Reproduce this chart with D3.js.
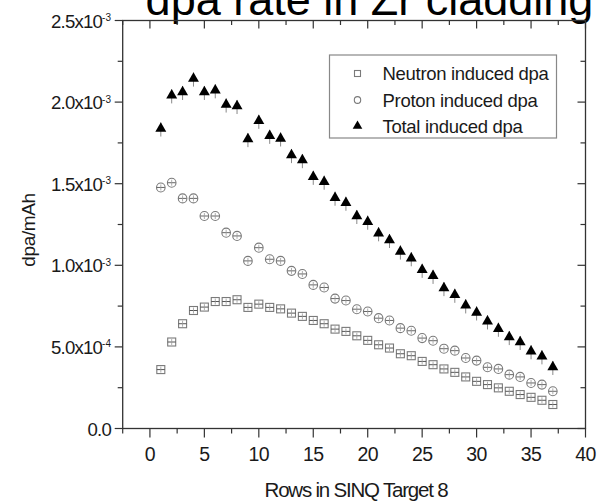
<!DOCTYPE html>
<html>
<head>
<meta charset="utf-8">
<script src="https://cdn.jsdelivr.net/npm/d3@7"></script>
<style>
  body { margin: 0; background: #fff; }
  text { font-family: "Liberation Sans", Arial, sans-serif; fill: #1a1a1a; }
</style>
</head>
<body>
<div id="content"></div>
<script>
// rows in the target
const rows = d3.range(1, 38);

// dpa/mAh (x1e-3)
const neutronDpa = [0.361, 0.530, 0.642, 0.723, 0.744, 0.778, 0.778, 0.789, 0.742, 0.762,
  0.742, 0.733, 0.707, 0.687, 0.662, 0.642, 0.609, 0.595, 0.568, 0.540,
  0.513, 0.493, 0.458, 0.446, 0.411, 0.391, 0.365, 0.344, 0.316, 0.289,
  0.269, 0.249, 0.228, 0.208, 0.191, 0.173, 0.147];
const protonDpa = [1.477, 1.506, 1.410, 1.410, 1.302, 1.302, 1.200, 1.180, 1.027, 1.108,
  1.037, 1.027, 0.966, 0.947, 0.880, 0.864, 0.796, 0.784, 0.731, 0.717,
  0.676, 0.662, 0.615, 0.599, 0.554, 0.538, 0.489, 0.477, 0.432, 0.416,
  0.375, 0.365, 0.330, 0.316, 0.279, 0.269, 0.228];
const totalDpa = [1.838, 2.041, 2.062, 2.144, 2.062, 2.072, 1.985, 1.976, 1.773, 1.885,
  1.793, 1.777, 1.675, 1.644, 1.542, 1.512, 1.414, 1.383, 1.302, 1.267,
  1.196, 1.155, 1.084, 1.043, 0.972, 0.935, 0.860, 0.819, 0.754, 0.711,
  0.656, 0.611, 0.560, 0.530, 0.473, 0.442, 0.377];

const xTicks = [0, 5, 10, 15, 20, 25, 30, 35, 40];
const yTicks = [0, 0.5e-3, 1.0e-3, 1.5e-3, 2.0e-3, 2.5e-3];
const yTickLabels = [["0.0", ""], ["5.0x10", "-4"], ["1.0x10", "-3"], ["1.5x10", "-3"], ["2.0x10", "-3"], ["2.5x10", "-3"]];
const legendNames = ["Neutron induced dpa", "Proton induced dpa", "Total induced dpa"];

const W = 606, H = 501;
const pLeft = 122.7, pRight = 585.5, pTop = 20.5, pBottom = 428.5;

const x = d3.scaleLinear().domain([-2.5, 40]).range([pLeft, pRight]);
const y = d3.scaleLinear().domain([0, 2.5e-3]).range([pBottom, pTop]);

const svg = d3.select("#content").append("svg")
    .attr("width", W)
    .attr("height", H);

// title, cut by the top edge like the original
svg.append("text")
    .attr("x", 369.5)
    .attr("y", 15)
    .attr("text-anchor", "middle")
    .style("font-size", "45px")
    .style("fill", "#000")
    .text("dpa rate in Zr cladding");

// ticks on all four sides
const xMinor = d3.range(-2.5, 40.01, 2.5).filter(v => v % 5 !== 0);
const yMinor = d3.range(0.25e-3, 2.5e-3, 0.5e-3);
const tk = svg.append("g").attr("stroke", "#333").attr("stroke-width", 1.2);

xTicks.forEach(v => {
  tk.append("line").attr("x1", x(v)).attr("x2", x(v)).attr("y1", pBottom).attr("y2", pBottom + 9);
  tk.append("line").attr("x1", x(v)).attr("x2", x(v)).attr("y1", pTop).attr("y2", pTop + 8);
});
xMinor.forEach(v => {
  tk.append("line").attr("x1", x(v)).attr("x2", x(v)).attr("y1", pBottom).attr("y2", pBottom + 5);
  tk.append("line").attr("x1", x(v)).attr("x2", x(v)).attr("y1", pTop).attr("y2", pTop + 4.5);
});
yTicks.forEach(v => {
  tk.append("line").attr("x1", pLeft - 8).attr("x2", pLeft).attr("y1", y(v)).attr("y2", y(v));
  tk.append("line").attr("x1", pRight - 8).attr("x2", pRight).attr("y1", y(v)).attr("y2", y(v));
});
yMinor.forEach(v => {
  tk.append("line").attr("x1", pLeft - 5).attr("x2", pLeft).attr("y1", y(v)).attr("y2", y(v));
  tk.append("line").attr("x1", pRight - 5).attr("x2", pRight).attr("y1", y(v)).attr("y2", y(v));
});

// frame
svg.append("rect")
    .attr("x", pLeft).attr("y", pTop)
    .attr("width", pRight - pLeft).attr("height", pBottom - pTop)
    .attr("fill", "none")
    .attr("stroke", "#333")
    .attr("stroke-width", 1.3);

// tick labels
svg.append("g").selectAll("text")
    .data(xTicks)
    .enter().append("text")
    .attr("x", d => x(d))
    .attr("y", 460.5)
    .attr("text-anchor", "middle")
    .style("font-size", "19.5px")
    .style("letter-spacing", "-0.6px")
    .text(d => d);

const yl = svg.append("g").selectAll("text")
    .data(yTicks)
    .enter().append("text")
    .attr("x", 111)
    .attr("y", d => y(d) + 7)
    .attr("text-anchor", "end")
    .style("font-size", "18.6px")
    .style("letter-spacing", "-0.8px");
yl.append("tspan").text((d, i) => yTickLabels[i][0]);
yl.append("tspan")
    .attr("dy", -6.5)
    .style("font-size", "10px")
    .style("letter-spacing", "0px")
    .text((d, i) => yTickLabels[i][1]);

// axis titles
svg.append("text")
    .attr("x", 356)
    .attr("y", 496.5)
    .attr("text-anchor", "middle")
    .style("font-size", "20.5px")
    .style("letter-spacing", "-1.2px")
    .text("Rows in SINQ Target 8");

svg.append("text")
    .attr("transform", "translate(35,230) rotate(-90)")
    .attr("text-anchor", "middle")
    .style("font-size", "19px")
    .style("letter-spacing", "-0.4px")
    .text("dpa/mAh");

// markers
function squareMark(g, cx, cy, s) {
  g.append("rect").attr("x", cx - s / 2).attr("y", cy - s / 2).attr("width", s).attr("height", s)
    .attr("fill", "#fff").attr("stroke", "#7a7a7a").attr("stroke-width", 1.1);
}
function circleMark(g, cx, cy, r) {
  g.append("ellipse").attr("cx", cx).attr("cy", cy).attr("rx", r).attr("ry", r * 1.05)
    .attr("fill", "#fff").attr("stroke", "#7a7a7a").attr("stroke-width", 1.1);
}
function triMark(g, cx, cy, s) {
  g.append("path")
    .attr("d", d3.symbol().type(d3.symbolTriangle).size(s)())
    .attr("transform", `translate(${cx},${cy})`)
    .attr("fill", "#000");
}

const pts = svg.append("g");

rows.forEach((r, i) => {
  let cx = x(r);
  // neutron squares with small error cross inside
  let cy = y(neutronDpa[i] * 1e-3);
  squareMark(pts, cx, cy, 8);
  pts.append("line").attr("x1", cx - 4).attr("x2", cx + 4).attr("y1", cy).attr("y2", cy).attr("stroke", "#555").attr("stroke-width", 1);
  pts.append("line").attr("x1", cx).attr("x2", cx).attr("y1", cy - 3).attr("y2", cy + 3).attr("stroke", "#999").attr("stroke-width", 0.8);

  // proton circles
  cy = y(protonDpa[i] * 1e-3);
  circleMark(pts, cx, cy, 4.3);
  pts.append("line").attr("x1", cx - 4).attr("x2", cx + 4).attr("y1", cy).attr("y2", cy).attr("stroke", "#666").attr("stroke-width", 1);
  pts.append("line").attr("x1", cx).attr("x2", cx).attr("y1", cy - 3).attr("y2", cy + 3).attr("stroke", "#999").attr("stroke-width", 0.8);

  // total triangles with faint error bar
  cy = y(totalDpa[i] * 1e-3);
  pts.append("line").attr("x1", cx).attr("x2", cx).attr("y1", cy - 6).attr("y2", cy + 8).attr("stroke", "#888").attr("stroke-width", 1);
  triMark(pts, cx, cy, 52);
});

// legend
const lg = svg.append("g");
lg.append("rect")
    .attr("x", 329.5).attr("y", 55)
    .attr("width", 227).attr("height", 83)
    .attr("fill", "#fff")
    .attr("stroke", "#888")
    .attr("stroke-width", 1.2);

const legendY = [73.5, 100, 126];
squareMark(lg, 357.5, legendY[0], 6);
circleMark(lg, 357.5, legendY[1], 3.2);
triMark(lg, 357.5, legendY[2], 40);

lg.selectAll("text.lab")
    .data(legendNames)
    .enter().append("text")
    .attr("class", "lab")
    .attr("x", 382.5)
    .attr("y", (d, i) => legendY[i] + 6.5)
    .style("font-size", "18.5px")
    .style("letter-spacing", "-0.3px")
    .text(d => d);
</script>
</body>
</html>
